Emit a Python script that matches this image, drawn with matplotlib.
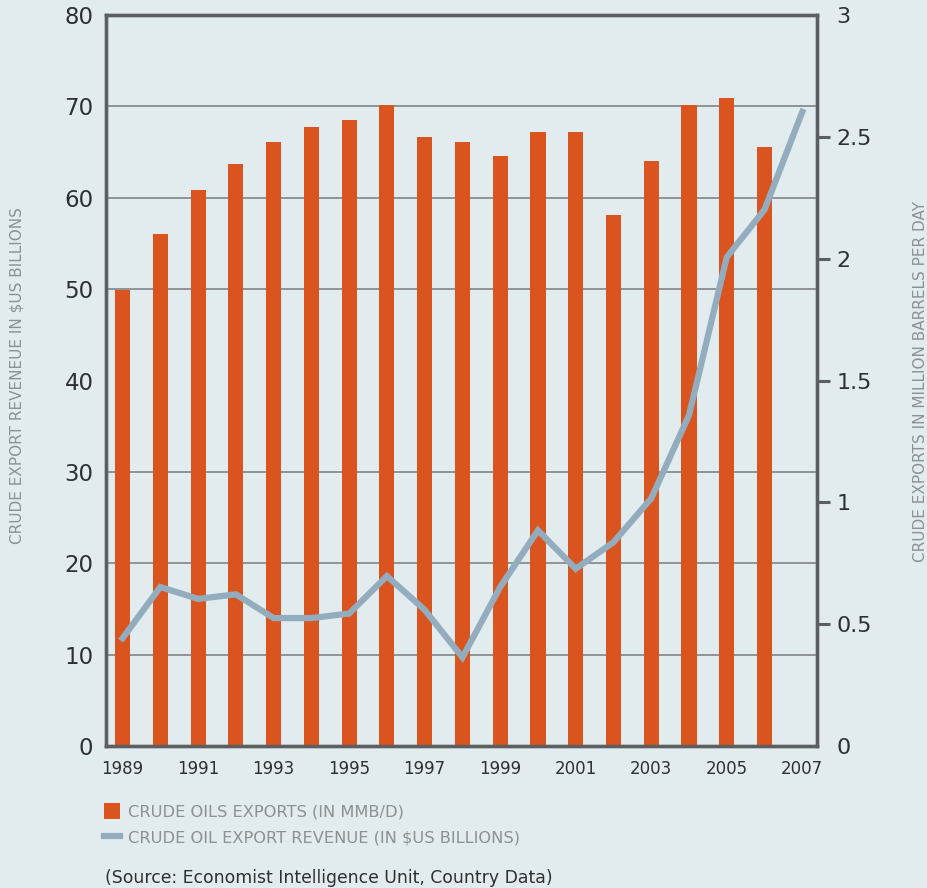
import matplotlib
matplotlib.use("Agg")
import matplotlib.pyplot as plt
import numpy as np
from matplotlib.lines import Line2D
from matplotlib.patches import Patch

years = list(range(1989, 2008))
exports_mmbd = [1.87, 2.10, 2.28, 2.39, 2.48, 2.54, 2.57, 2.63, 2.50, 2.48,
                2.42, 2.52, 2.52, 2.18, 2.40, 2.63, 2.66, 2.46]          # 1989-2006
revenue_bn = [11.8, 17.4, 16.1, 16.6, 14.0, 14.0, 14.5, 18.6, 14.9, 9.7,
              17.4, 23.6, 19.4, 22.3, 27.1, 36.2, 53.5, 58.7, 69.4]      # 1989-2007
year_labels = [str(y) for y in range(1989, 2008, 2)]
left_ticks = list(range(0, 90, 10))
right_ticks = [0, 0.5, 1, 1.5, 2, 2.5, 3]
legend_labels = ["CRUDE OILS EXPORTS (IN MMB/D)", "CRUDE OIL EXPORT REVENUE (IN $US BILLIONS)"]

BG = "#e2ebed"
ORANGE = "#d9541e"
BLUE = "#93adbf"
SPINE = "#5b5f61"
GRID = "#8e9395"
TXT = "#2e3133"
GREY_TXT = "#8c9193"

plt.rcParams['font.family'] = ['DejaVu Sans']

fig = plt.figure(figsize=(9.28, 8.88), dpi=100, facecolor=BG)
axL = fig.add_axes([0.1142, 0.1599, 0.8804 - 0.1142, 0.9831 - 0.1599])
axR = axL.twinx()

x = np.arange(len(years))
xb = np.arange(len(exports_mmbd))

axR.set_zorder(1)
axL.set_zorder(2)
axL.patch.set_visible(False)
axR.patch.set_visible(True)
axR.patch.set_facecolor(BG)

axR.bar(xb, exports_mmbd, width=0.4, color=ORANGE, zorder=3)
axR.set_ylim(0, 3)
axL.set_ylim(0, 80)
axL.set_xlim(-0.44, 18.39)

# gridlines at left ticks, drawn on the lower axis beneath bars
grid_vals = np.array(left_ticks[1:-1]) * 3 / 80
axR.set_yticks(grid_vals, minor=True)
axR.yaxis.grid(True, which='minor', color=GRID, lw=1.4, zorder=0)
axR.set_axisbelow(True)
axR.tick_params(axis='y', which='minor', length=0)

axR.set_yticks(right_ticks)
axR.set_yticklabels(["0", "0.5", "1", "1.5", "2", "2.5", "3"])
axR.tick_params(axis='y', which='major', length=9, width=2.2, color=SPINE,
                labelsize=16, labelcolor=TXT, pad=5)
ticks = axR.yaxis.get_major_ticks()
for t in (ticks[0], ticks[-1]):
    t.tick1line.set_visible(False)
    t.tick2line.set_visible(False)

axL.plot(x, revenue_bn, color=BLUE, lw=4.5, solid_joinstyle='miter', zorder=5)
axL.set_yticks(left_ticks)
axL.tick_params(axis='y', length=0, labelsize=16.5, labelcolor=TXT, pad=9)
axL.set_xticks(x[::2])
axL.set_xticklabels(year_labels)
axL.tick_params(axis='x', length=0, labelsize=12, labelcolor=TXT, pad=10)
axR.tick_params(axis='x', length=0)

for ax in (axL, axR):
    for s in ax.spines.values():
        s.set_color(SPINE)
        s.set_linewidth(2.4)

lblL = axL.set_ylabel("CRUDE EXPORT REVENEUE IN $US BILLIONS", color=GREY_TXT, fontsize=11)
lblL.set_va('center')
axL.yaxis.set_label_coords(-0.125, 0.507)
lblR = axR.set_ylabel("CRUDE EXPORTS IN MILLION BARRELS PER DAY", color=GREY_TXT, fontsize=11,
                      rotation=90)
lblR.set_va('center')
axR.yaxis.set_label_coords(1.145, 0.498)

handles = [Patch(facecolor=ORANGE, edgecolor='none'),
           Line2D([0], [0], color=BLUE, lw=4.5)]
leg = fig.legend(handles, legend_labels, loc='upper left', bbox_to_anchor=(0.112, 1 - 803 / 888),
                 frameon=False, fontsize=11.7, labelcolor=GREY_TXT, handlelength=1.0,
                 handletextpad=0.5, labelspacing=0.62, borderaxespad=0, borderpad=0,
                 handleheight=1.1)

fig.text(0.113, 1 - 878 / 888, "(Source: Economist Intelligence Unit, Country Data)",
         fontsize=12.4, color=TXT, va='center', ha='left')

fig.savefig("out.png", dpi=100, facecolor=BG)
